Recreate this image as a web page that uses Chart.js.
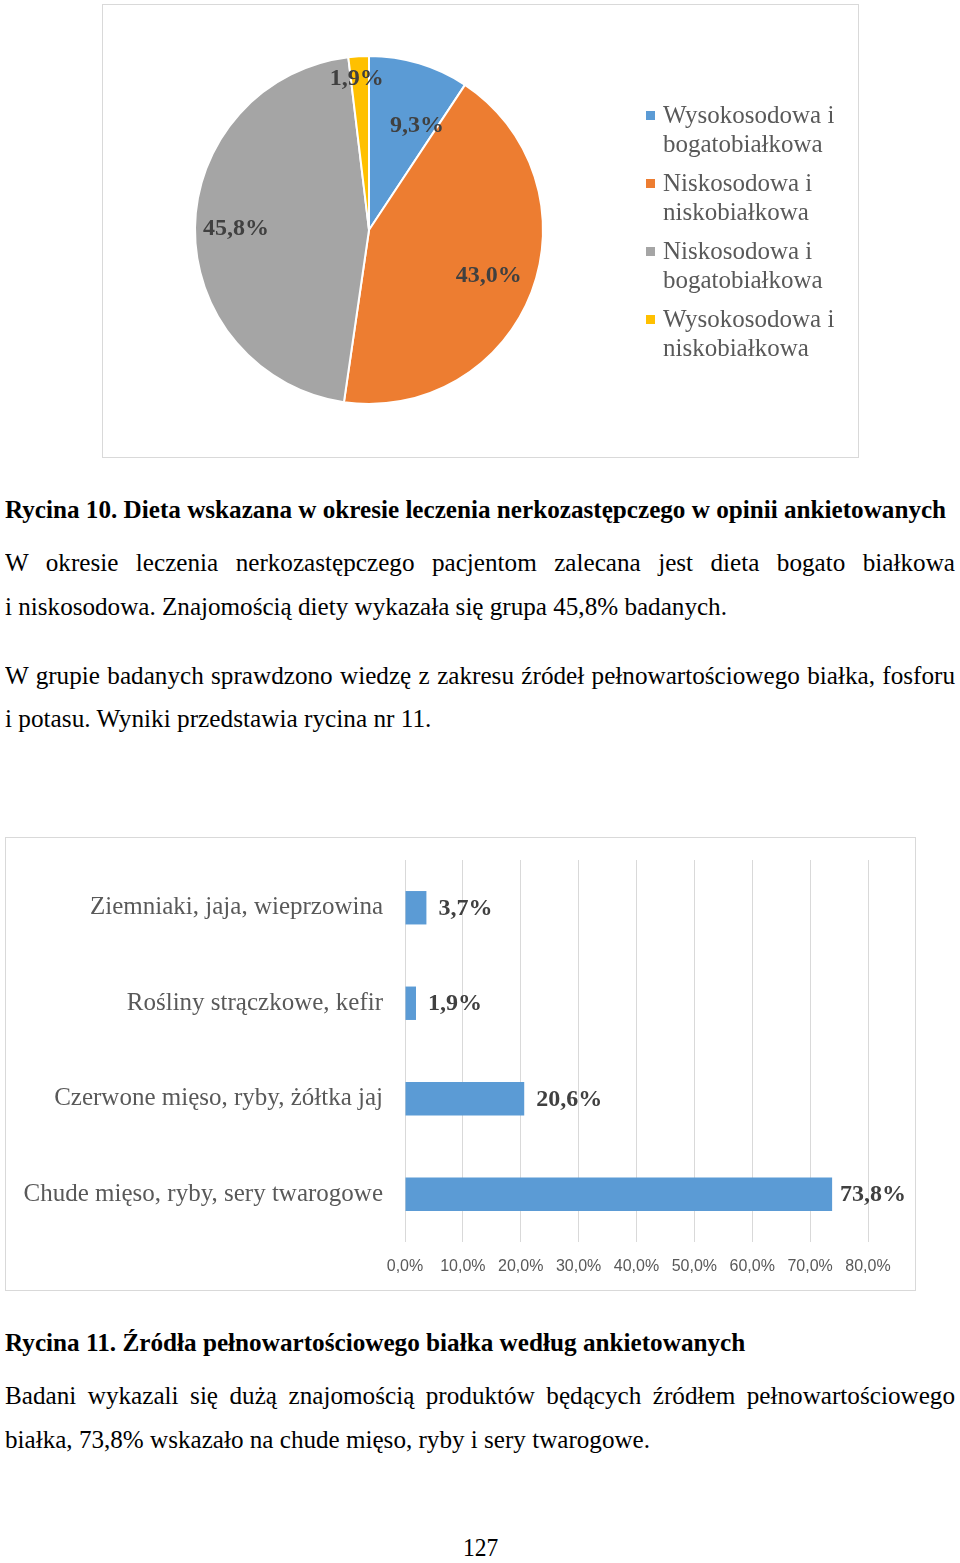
<!DOCTYPE html>
<html lang="pl">
<head>
<meta charset="utf-8">
<script src="https://cdn.jsdelivr.net/npm/chart.js@4.4.1/dist/chart.umd.min.js"></script>
<style>
  html, body { margin: 0; padding: 0; background: #fff; }
  body { width: 960px; height: 1563px; position: relative; overflow: hidden; font-family: "Liberation Serif", "Times New Roman", serif; color: #000; }
  .box { position: absolute; border: 1px solid #D9D9D9; box-sizing: border-box; }
  canvas { position: absolute; }
  .ln { position: absolute; white-space: nowrap; font-size: 25.5px; line-height: 26px; transform-origin: 0 50%; }
  .ln.b { font-weight: bold; }
  .ln.j { white-space: normal; text-align: justify; text-align-last: justify; }
  .leg { position: absolute; font-size: 25px; line-height: 29px; color: #595959; white-space: nowrap; }
  .sq { position: absolute; width: 9px; height: 9px; }
</style>
</head>
<body>
<div class="box" style="left:102px;top:4px;width:757px;height:454px;"></div>
<canvas id="pie" width="756" height="453" style="left:102px;top:4px;width:756px;height:453px;"></canvas>
<div id="legend"></div>

<div class="ln b" data-x="5" data-y="510" data-w="941">Rycina 10. Dieta wskazana w okresie leczenia nerkozastępczego w opinii ankietowanych</div>
<div class="ln j" data-x="5" data-y="563" data-w="950">W okresie leczenia nerkozastępczego pacjentom zalecana jest dieta bogato białkowa</div>
<div class="ln" data-x="5" data-y="607" data-w="722">i niskosodowa. Znajomością diety wykazała się grupa 45,8% badanych.</div>
<div class="ln j" data-x="5" data-y="676" data-w="950">W grupie badanych sprawdzono wiedzę z zakresu źródeł pełnowartościowego białka, fosforu</div>
<div class="ln" data-x="5" data-y="719" data-w="426">i potasu. Wyniki przedstawia rycina nr 11.</div>

<div class="box" style="left:5px;top:837px;width:911px;height:454px;"></div>
<canvas id="bar" width="910" height="453" style="left:5px;top:837px;width:910px;height:453px;"></canvas>

<div class="ln b" data-x="5" data-y="1343" data-w="740">Rycina 11. Źródła pełnowartościowego białka według ankietowanych</div>
<div class="ln j" data-x="5" data-y="1396" data-w="950">Badani wykazali się dużą znajomością produktów będących źródłem pełnowartościowego</div>
<div class="ln" data-x="5" data-y="1440" data-w="645">białka, 73,8% wskazało na chude mięso, ryby i sery twarogowe.</div>
<div class="ln" data-x="463" data-y="1548" data-w="35">127</div>

<script>
// ---- Data: pie chart (Rycina 10) ----
const pieLabels = [
  ['Wysokosodowa i', 'bogatobiałkowa'],
  ['Niskosodowa i', 'niskobiałkowa'],
  ['Niskosodowa i', 'bogatobiałkowa'],
  ['Wysokosodowa i', 'niskobiałkowa']
];
const pieValues = [9.3, 43.0, 45.8, 1.9];
const pieColors = ['#5B9BD5', '#ED7D31', '#A5A5A5', '#FFC000'];

// ---- Data: bar chart (Rycina 11) ----
const barCategories = [
  'Ziemniaki, jaja, wieprzowina',
  'Rośliny strączkowe, kefir',
  'Czerwone mięso, ryby, żółtka jaj',
  'Chude mięso, ryby, sery twarogowe'
];
const barValues = [3.7, 1.9, 20.6, 73.8];
const xTickMax = 80;
const xTickStep = 10;

const fmt = v => v.toFixed(1).replace('.', ',') + '%';

// ---- text line fitting ----
(function fitLines() {
  const lines = Array.from(document.querySelectorAll('.ln'));
  let ratios = [];
  lines.forEach(el => {
    const x = +el.dataset.x, y = +el.dataset.y, w = +el.dataset.w;
    el.style.left = x + 'px';
    el.style.top = (y - 13) + 'px';
    if (!el.classList.contains('j')) {
      const nat = el.scrollWidth;
      const s = w / nat;
      el.style.transform = 'scaleX(' + s + ')';
      if (!el.classList.contains('b') && w > 100) ratios.push(s);
    }
  });
  const sAvg = ratios.reduce((a, b) => a + b, 0) / ratios.length;
  lines.filter(el => el.classList.contains('j')).forEach(el => {
    const w = +el.dataset.w;
    el.style.width = (w / sAvg) + 'px';
    el.style.transform = 'scaleX(' + sAvg + ')';
  });
})();

// ---- legend (HTML) ----
(function buildLegend() {
  const legend = document.getElementById('legend');
  const startY = 99.5;
  const itemStep = 68;
  pieLabels.forEach((lines, i) => {
    const top = startY + i * itemStep;
    const sq = document.createElement('div');
    sq.className = 'sq';
    sq.style.left = '646px';
    sq.style.top = (top + 11) + 'px';
    sq.style.background = pieColors[i];
    legend.appendChild(sq);
    const t = document.createElement('div');
    t.className = 'leg';
    t.style.left = '663px';
    t.style.top = top + 'px';
    t.innerHTML = lines.join('<br>');
    legend.appendChild(t);
  });
})();

// ---- pie chart ----
const pieLabelRadius = [0.66, 0.736, 0.764, 0.883];
const pieLabelShift = [[15, 6], [0, 0], [0, 0], [-3, 2]];
const pieLabelPlugin = {
  id: 'pieLabels',
  afterDatasetsDraw(chart) {
    const ctx = chart.ctx;
    const meta = chart.getDatasetMeta(0);
    ctx.save();
    ctx.font = 'bold 24px "Liberation Serif", "Times New Roman", serif';
    ctx.fillStyle = '#404040';
    ctx.textAlign = 'center';
    ctx.textBaseline = 'middle';
    meta.data.forEach((arc, i) => {
      const p = arc.getProps(['x', 'y', 'startAngle', 'endAngle', 'outerRadius'], true);
      const mid = (p.startAngle + p.endAngle) / 2;
      const r = p.outerRadius * pieLabelRadius[i];
      const x = p.x + Math.cos(mid) * r + pieLabelShift[i][0];
      const y = p.y + Math.sin(mid) * r + pieLabelShift[i][1];
      ctx.fillText(fmt(pieValues[i]), x, y);
    });
    ctx.restore();
  }
};

new Chart(document.getElementById('pie'), {
  type: 'pie',
  data: {
    labels: pieLabels,
    datasets: [{
      data: pieValues,
      backgroundColor: pieColors,
      borderColor: '#FFFFFF',
      borderWidth: 2
    }]
  },
  options: {
    responsive: false,
    animation: false,
    layout: { padding: { left: 92, top: 51, right: 314, bottom: 52 } },
    plugins: { legend: { display: false }, tooltip: { enabled: false } }
  },
  plugins: [pieLabelPlugin]
});

// ---- bar chart ----
const barLabelPlugin = {
  id: 'barLabels',
  afterDatasetsDraw(chart) {
    const ctx = chart.ctx;
    const meta = chart.getDatasetMeta(0);
    ctx.save();
    ctx.font = 'bold 24px "Liberation Serif", "Times New Roman", serif';
    ctx.fillStyle = '#404040';
    ctx.textAlign = 'left';
    ctx.textBaseline = 'middle';
    meta.data.forEach((bar, i) => {
      const p = bar.getProps(['x', 'y'], true);
      const gap = i === meta.data.length - 1 ? 8 : 12;
      ctx.fillText(fmt(barValues[i]), p.x + gap, p.y + 1);
    });
    ctx.restore();
  }
};

new Chart(document.getElementById('bar'), {
  type: 'bar',
  data: {
    labels: barCategories,
    datasets: [{
      data: barValues,
      backgroundColor: '#5B9BD5',
      borderWidth: 0,
      categoryPercentage: 1.0,
      barPercentage: 0.35
    }]
  },
  options: {
    indexAxis: 'y',
    responsive: false,
    animation: false,
    layout: { padding: { left: 0, top: 23, right: 47, bottom: 12 } },
    plugins: { legend: { display: false }, tooltip: { enabled: false } },
    scales: {
      x: {
        min: 0,
        max: xTickMax,
        border: { display: false },
        grid: { color: '#D9D9D9', lineWidth: 1, drawTicks: false },
        ticks: {
          stepSize: xTickStep,
          padding: 15,
          color: '#595959',
          font: { family: '"Liberation Sans", Arial, sans-serif', size: 16 },
          callback: v => fmt(v)
        },
        afterFit: s => { s.height = 36; s.paddingLeft = 0; s.paddingRight = 0; }
      },
      y: {
        border: { display: false },
        grid: { display: false, drawTicks: false },
        ticks: {
          padding: 22,
          color: '#595959',
          font: { family: '"Liberation Serif", "Times New Roman", serif', size: 25 }
        },
        afterFit: s => { s.width = 400; s.paddingTop = 0; s.paddingBottom = 0; }
      }
    }
  },
  plugins: [barLabelPlugin]
});
</script>
</body>
</html>
